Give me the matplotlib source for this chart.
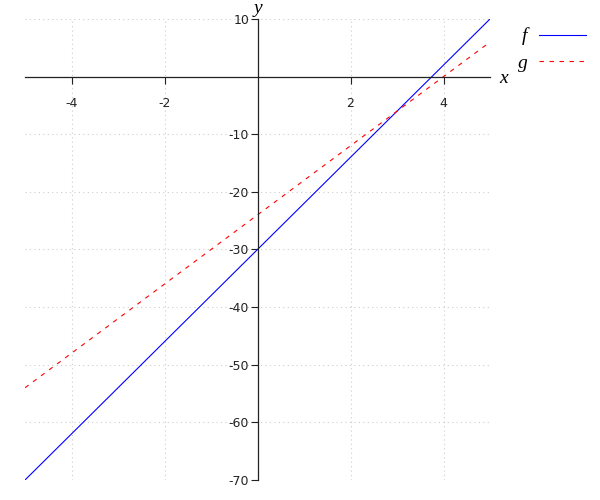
import numpy as np
import matplotlib.pyplot as plt

# data (two end points per straight line)
x_vals = [-5, 5]
f_vals = [-70, 10]
g_vals = [-54, 6]
xticks = [-4, -2, 2, 4]
yticks = [10, -10, -20, -30, -40, -50, -60, -70]

fig = plt.figure(figsize=(6, 5), dpi=100)
ax = fig.add_axes([25/600, 20/500, 465/600, 461/500])

ax.plot(x_vals, f_vals, color='blue', linewidth=0.8, label='f')
ax.plot(x_vals, g_vals, color='red', linewidth=0.8, dashes=(4, 5), label='g')

ax.set_xlim(-5, 5)
ax.set_ylim(-70, 10)

# axes through the origin
ax.spines['left'].set_position(('data', 0))
ax.spines['bottom'].set_position(('data', 0))
ax.spines['right'].set_visible(False)
ax.spines['top'].set_visible(False)
for s in ('left', 'bottom'):
    ax.spines[s].set_linewidth(0.9)
    ax.spines[s].set_color('#222222')

ax.set_xticks(xticks)
ax.set_yticks(yticks)
ax.set_xticklabels([str(t) for t in xticks])
ax.set_yticklabels([str(t) for t in yticks])
ax.tick_params(axis='x', direction='out', length=5, pad=10, labelsize=9,
               colors='#222222')
ax.tick_params(axis='y', direction='out', length=5, pad=1, labelsize=9,
               colors='#222222')

ax.grid(True, color='#cccccc', linestyle=(0, (1, 3)), linewidth=0.8)

# axis names
serif = 'Liberation Serif'
ax.text(5.3, -0.3, 'x', fontsize=14, family=serif, style='italic',
        ha='center', va='center')
ax.text(0, 11.9, 'y', fontsize=14, family=serif, style='italic',
        ha='center', va='center', clip_on=False)

leg = fig.legend(loc='upper left', bbox_to_anchor=(500/600, 1 - 10/500),
                 frameon=False, markerfirst=False, handlelength=2.4,
                 handletextpad=0.6, labelspacing=0.45,
                 prop={'family': serif, 'style': 'italic', 'size': 14})

fig.savefig('out.png', dpi=100)
